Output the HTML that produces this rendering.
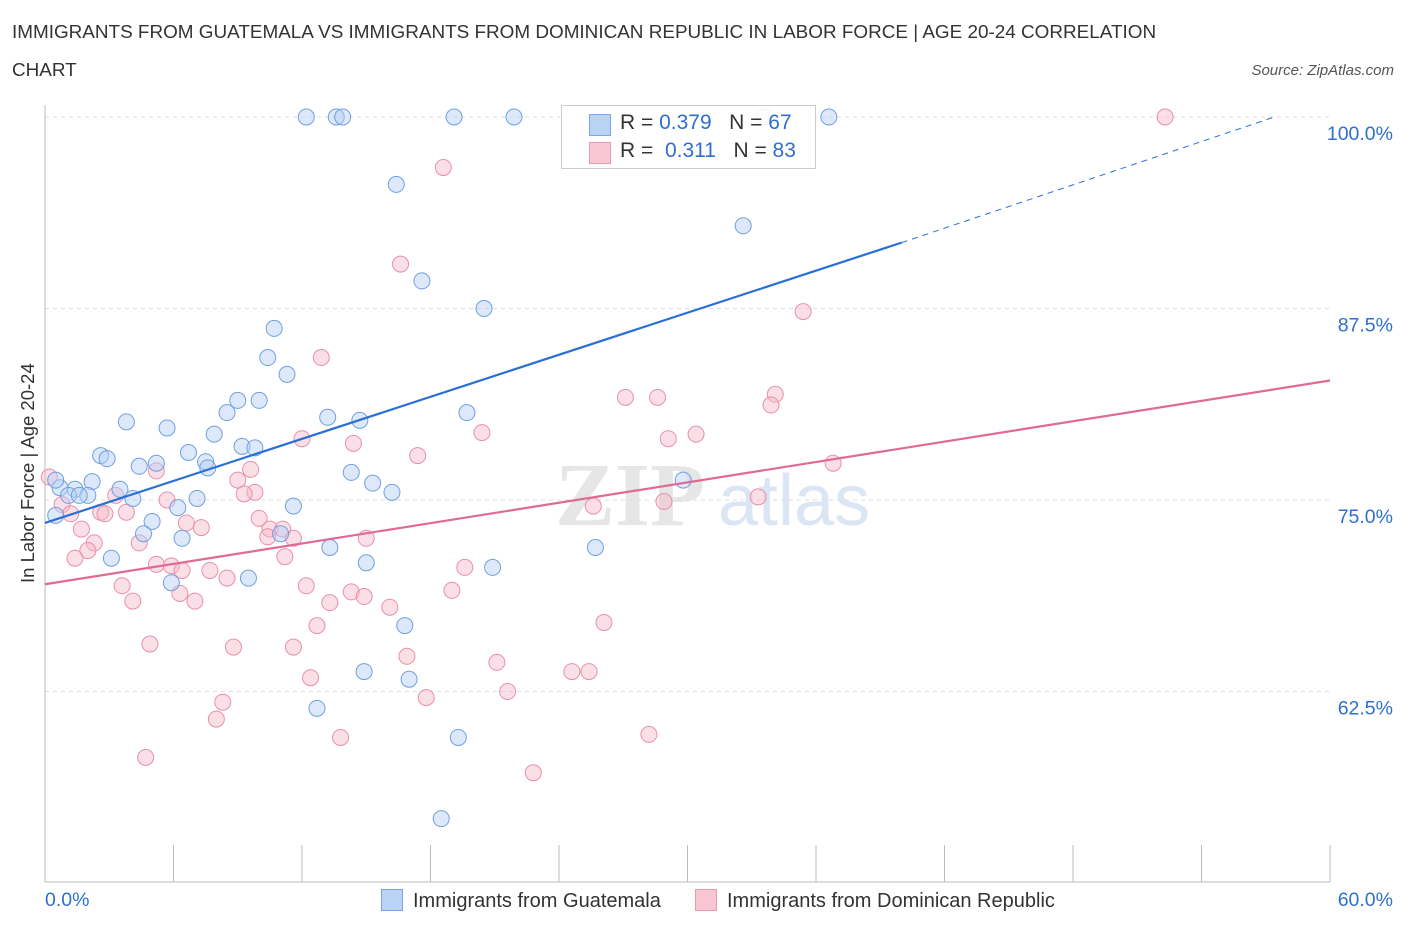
<!DOCTYPE html>
<html><head><meta charset="utf-8"><style>
body{margin:0;background:#fff;font-family:"Liberation Sans",sans-serif;}
#wrap{position:relative;width:1406px;height:930px;overflow:hidden}
.t{position:absolute;white-space:nowrap}
</style></head><body>
<div id="wrap">
<div class="t" style="left:12px;top:14px;font-size:18.9px;color:#333;line-height:38px;width:1165px;white-space:normal">IMMIGRANTS FROM GUATEMALA VS IMMIGRANTS FROM DOMINICAN REPUBLIC IN LABOR FORCE | AGE 20-24 CORRELATION CHART</div>
<div class="t" style="right:12px;top:62px;font-size:15px;color:#555;font-style:italic">Source: ZipAtlas.com</div>
<svg id="svg" width="1406" height="930" style="position:absolute;left:0;top:0"></svg>
<div class="t" style="left:561px;top:105px;width:253px;height:62px;border:1px solid #ccc;background:rgba(255,255,255,0.9);font-size:21px;color:#333">
  <div style="position:absolute;left:27px;top:8px;width:20px;height:20px;background:#b9d3f5;border:1px solid #7aa7e3"></div>
  <div style="position:absolute;left:58px;top:5px">R = <span style="color:#2f6fd0">0.379</span>&nbsp;&nbsp;&nbsp;N = <span style="color:#2f6fd0">67</span></div>
  <div style="position:absolute;left:27px;top:36px;width:20px;height:20px;background:#f9c6d4;border:1px solid #e99ab2"></div>
  <div style="position:absolute;left:58px;top:33px">R = &nbsp;<span style="color:#2f6fd0">0.311</span>&nbsp;&nbsp;&nbsp;N = <span style="color:#2f6fd0">83</span></div>
</div>
<div class="t" style="left:-62px;top:482px;font-size:18.5px;color:#333;transform:rotate(-90deg);width:180px;text-align:center">In Labor Force | Age 20-24</div>
<div class="t" style="left:45px;top:889px;font-size:19.5px;color:#2f6fd0">0.0%</div>
<div class="t" style="right:13px;top:889px;font-size:19.5px;color:#2f6fd0">60.0%</div>
<div class="t" style="left:381px;top:889px;font-size:20px;color:#333"><span style="display:inline-block;width:20px;height:20px;background:#b9d3f5;border:1px solid #7aa7e3;vertical-align:-4px;margin-right:10px"></span>Immigrants from Guatemala</div>
<div class="t" style="left:695px;top:889px;font-size:20px;color:#333"><span style="display:inline-block;width:20px;height:20px;background:#f9c6d4;border:1px solid #e99ab2;vertical-align:-4px;margin-right:10px"></span>Immigrants from Dominican Republic</div>
</div>
<script>
const yTicks=[100,87.5,75,62.5];
const yTickLabels=["100.0%","87.5%","75.0%","62.5%"];
const blueX=[12.2,13.6,13.9,19.1,21.9,36.6,33.6,16.4,32.6,17.6,20.5,10.7,10.4,11.3,9.0,10.0,8.5,3.8,13.2,14.7,19.7,5.7,7.9,9.2,9.8,2.6,2.9,6.7,5.2,4.4,7.5,7.6,14.3,2.2,15.3,29.8,3.5,1.4,0.7,16.2,1.1,2.0,4.1,7.1,1.6,11.6,6.2,0.5,5.0,4.6,6.4,11.0,13.3,25.7,3.1,15.0,20.9,5.9,9.5,16.8,14.9,17.0,12.7,19.3,18.5,0.5];
const blueY=[100,100,100,100,100,100,100,95.6,92.9,89.3,87.5,86.2,84.3,83.2,81.5,81.5,80.7,80.1,80.4,80.2,80.7,79.7,79.3,78.5,78.4,77.9,77.7,78.1,77.4,77.2,77.5,77.1,76.8,76.2,76.1,76.3,75.7,75.7,75.8,75.5,75.3,75.3,75.1,75.1,75.3,74.6,74.5,74.0,73.6,72.8,72.5,72.8,71.9,71.9,71.2,70.9,70.6,69.6,69.9,66.8,63.8,63.3,61.4,59.5,54.2,76.3];
const pinkX=[52.3,18.6,16.6,35.4,12.9,34.1,33.9,27.1,28.6,20.4,29.1,30.4,14.4,12.0,17.4,36.8,5.2,9.6,0.2,9.0,9.8,9.3,3.3,5.7,33.3,25.6,28.9,0.8,3.8,2.6,2.8,1.2,10.0,6.6,7.3,1.7,10.5,11.1,10.4,11.6,15.0,4.4,2.3,2.0,11.2,1.4,5.2,5.9,6.4,7.7,19.6,8.5,3.6,12.2,19.0,14.3,14.9,6.3,4.1,7.0,13.3,16.1,26.1,12.7,4.9,8.8,11.6,16.9,21.1,24.6,25.4,12.4,21.6,17.8,8.3,8.0,28.2,13.8,4.7,22.8];
const pinkY=[100,96.7,90.4,87.3,84.3,81.9,81.2,81.7,81.7,79.4,79.0,79.3,78.7,79.0,77.9,77.4,76.9,77.0,76.5,76.3,75.5,75.4,75.3,75.0,75.2,74.6,74.9,74.7,74.2,74.2,74.1,74.1,73.8,73.5,73.2,73.1,73.1,73.1,72.6,72.5,72.5,72.2,72.2,71.7,71.3,71.2,70.8,70.7,70.4,70.4,70.6,69.9,69.4,69.4,69.1,69.0,68.7,68.9,68.4,68.4,68.3,68.0,67.0,66.8,65.6,65.4,65.4,64.8,64.4,63.8,63.8,63.4,62.5,62.1,61.8,60.7,59.7,59.5,58.2,57.2];
const blueTrend=[[0,73.5],[40,91.8],[57.4,100]];
const pinkTrend=[[0,69.5],[60,82.8]];
const X=v=>45+v/60*1285, Y=v=>117+(100-v)/12.5*191.5;
const svg=document.getElementById('svg'),NS='http://www.w3.org/2000/svg';
function mk(t,a){const e=document.createElementNS(NS,t);for(const k in a)e.setAttribute(k,a[k]);svg.appendChild(e);return e;}
let w=mk('text',{x:555,y:525,'font-size':90,fill:'#e6e6e6','font-family':'Liberation Serif','font-weight':'bold'});w.textContent='ZIP';


let w2=mk('text',{x:718,y:525,'font-size':72,fill:'#dbe6f5','font-family':'Liberation Sans'});w2.textContent='atlas';


yTicks.forEach((v,i)=>{
 const g=mk('line',{x1:45,x2:1330,y1:Y(v),y2:Y(v),stroke:'#ddd','stroke-dasharray':'4,4'});
 
 
 const t=mk('text',{x:1393,y:Y(v)+23,'text-anchor':'end','font-size':19.5,fill:'#2f6fd0','font-family':'Liberation Sans'});
 t.textContent=yTickLabels[i];
 
 
});
const ax=mk('line',{x1:45,x2:45,y1:105,y2:882,stroke:'#bbb'});


const bx=mk('line',{x1:45,x2:1330,y1:882,y2:882,stroke:'#bbb'});


for(let i=0;i<=10;i++){const tk=mk('line',{x1:X(i*6),x2:X(i*6),y1:845,y2:882,stroke:'#bbb'});
 
 }
function pts(xs,ys,fill,stroke,name){xs.forEach((x,i)=>{const c=mk('circle',{cx:X(x),cy:Y(ys[i]),r:8,fill:fill,'fill-opacity':0.45,stroke:stroke,'stroke-width':1});
 
 });}
pts(pinkX,pinkY,'#f7b8ca','#e890aa','point-dominican');
pts(blueX,blueY,'#b3cff3','#6fa0e0','point-guatemala');
const bl=mk('line',{x1:X(blueTrend[0][0]),y1:Y(blueTrend[0][1]),x2:X(blueTrend[1][0]),y2:Y(blueTrend[1][1]),stroke:'#2a6fd6','stroke-width':2.2});


const bd=mk('line',{x1:X(blueTrend[1][0]),y1:Y(blueTrend[1][1]),x2:X(blueTrend[2][0]),y2:Y(blueTrend[2][1]),stroke:'#2a6fd6','stroke-width':1,'stroke-dasharray':'6,5'});


const pl=mk('line',{x1:X(pinkTrend[0][0]),y1:Y(pinkTrend[0][1]),x2:X(pinkTrend[1][0]),y2:Y(pinkTrend[1][1]),stroke:'#e06a94','stroke-width':2.2});


</script>
</body></html>
